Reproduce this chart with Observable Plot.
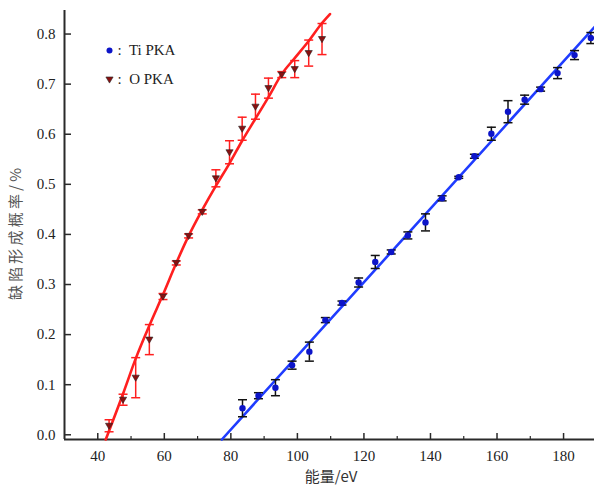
<!DOCTYPE html>
<html><head><meta charset="utf-8">
<script src="https://cdn.jsdelivr.net/npm/d3@7"></script>
<script src="https://cdn.jsdelivr.net/npm/@observablehq/plot@0.6"></script>
<style>body{margin:0;background:#fff}</style>
</head><body><div id="chart"></div>
<script>
// O PKA (red, down triangles)
const oEnergy = [43.4, 47.6, 51.4, 55.5, 59.6, 63.6, 67.3, 71.4, 75.5, 79.6, 83.4, 87.4, 91.3, 95.3, 99.2, 103.4, 107.4];
const oValue  = [0.018, 0.070, 0.114, 0.190, 0.276, 0.343, 0.397, 0.445, 0.512, 0.564, 0.611, 0.655, 0.692, 0.719, 0.730, 0.762, 0.790];
const oError  = [0.012, 0.011, 0.040, 0.030, 0.006, 0.004, 0.004, 0.004, 0.017, 0.023, 0.023, 0.025, 0.020, 0.006, 0.017, 0.026, 0.031];
// O PKA fit curve
const oFitEnergy = [42.4, 47.6, 51.4, 55.5, 59.6, 63.6, 67.3, 71.4, 75.5, 79.6, 83.4, 87.4, 91.3, 95.3, 99.2, 103.4, 107.4, 109.8];
const oFitValue  = [-0.0094, 0.082, 0.152, 0.218, 0.280, 0.343, 0.397, 0.449, 0.497, 0.542, 0.587, 0.631, 0.674, 0.720, 0.752, 0.786, 0.822, 0.840];
// Ti PKA (blue circles)
const tiEnergy = [83.5, 88.3, 93.4, 98.4, 103.6, 108.4, 113.4, 118.4, 123.4, 128.2, 133.2, 138.5, 143.5, 148.5, 153.2, 158.3, 163.3, 168.3, 173.1, 178.2, 183.3, 188.2];
const tiValue  = [0.053, 0.078, 0.094, 0.139, 0.166, 0.229, 0.263, 0.304, 0.345, 0.365, 0.398, 0.424, 0.472, 0.514, 0.556, 0.601, 0.645, 0.669, 0.690, 0.722, 0.758, 0.792];
const tiError  = [0.017, 0.006, 0.016, 0.008, 0.019, 0.005, 0.004, 0.009, 0.013, 0.004, 0.007, 0.017, 0.005, 0.002, 0.004, 0.013, 0.022, 0.009, 0.004, 0.011, 0.009, 0.011];
// Ti PKA fit line
const tiFitEnergy = [77.3, 189.3];
const tiFitValue  = [-0.0094, 0.814];

const xTicks = [40, 60, 80, 100, 120, 140, 160, 180];
const xMinorTicks = [50, 70, 90, 110, 130, 150, 170];
const yTicks = [0, 0.1, 0.2, 0.3, 0.4, 0.5, 0.6, 0.7, 0.8];
const legendLabels = [":  Ti PKA", ":  O PKA"];
const xLabel = "能量/eV";
const yLabel = "缺陷形成概率/%";

const oData = oEnergy.map((x, i) => ({x, y: oValue[i], e: oError[i]}));
const tiData = tiEnergy.map((x, i) => ({x, y: tiValue[i], e: tiError[i]}));
const oFit = oFitEnergy.map((x, i) => ({x, y: oFitValue[i]}));
const tiFit = tiFitEnergy.map((x, i) => ({x, y: tiFitValue[i]}));

const W = 594, H = 486, mL = 64, mR = 0, mT = 10, mB = 47;
const innerW = W - mL - mR, innerH = H - mT - mB;
const xDomain = [30, 189.3], yDomain = [-0.0094, 0.847];

const capSymbol = {draw(ctx, size) { const w = Math.sqrt(size / Math.PI); ctx.moveTo(-w, 0); ctx.lineTo(w, 0); }};
const downTri = {draw(ctx, size) { const r = Math.sqrt(size / Math.PI); ctx.moveTo(-r, -0.7 * r); ctx.lineTo(r, -0.7 * r); ctx.lineTo(0, r); ctx.closePath(); }};

const RED = "#ff1f1f", BLUE = "#1f3cff", TRI = "#8a1010", DOT = "#0c14c8", AX = "#2a2a2a";
const serif = "'Liberation Serif', 'Times New Roman', serif";
const cjk = "'Noto Sans CJK SC', " + serif;

const chart = Plot.plot({
  width: W, height: H,
  marginLeft: mL, marginRight: mR, marginTop: mT, marginBottom: mB,
  style: {fontFamily: serif, fontSize: "15px", background: "#fff", color: "#222"},
  x: {domain: xDomain},
  y: {domain: yDomain},
  marks: [
    // axis lines
    Plot.ruleY([yDomain[0]], {stroke: AX, strokeWidth: 2}),
    Plot.ruleX([xDomain[0]], {stroke: AX, strokeWidth: 2}),
    // inward ticks
    Plot.tickX(xTicks, {x: d => d, insetTop: innerH - 6, stroke: AX, strokeWidth: 1.5}),
    Plot.tickX(xMinorTicks, {x: d => d, insetTop: innerH - 3, stroke: AX, strokeWidth: 1.2}),
    Plot.tickY(yTicks, {y: d => d, insetRight: innerW - 7, stroke: AX, strokeWidth: 1.5}),
    // tick labels
    Plot.axisX({ticks: xTicks, tickSize: 0, tickPadding: 11, label: null, fontSize: 15}),
    Plot.axisY({ticks: yTicks, tickSize: 0, tickPadding: 9, label: null, fontSize: 15, tickFormat: d3.format(".1f")}),
    // fits
    Plot.line(oFit, {x: "x", y: "y", stroke: RED, strokeWidth: 2.6, curve: "monotone-x"}),
    Plot.line(tiFit, {x: "x", y: "y", stroke: BLUE, strokeWidth: 2.6}),
    // O PKA error bars
    Plot.ruleX(oData, {x: "x", y1: d => d.y - d.e, y2: d => d.y + d.e, stroke: RED, strokeWidth: 1.5}),
    Plot.dot(oData, {x: "x", y: d => d.y + d.e, symbol: capSymbol, r: 4.5, stroke: RED, strokeWidth: 1.5, fill: "none"}),
    Plot.dot(oData, {x: "x", y: d => d.y - d.e, symbol: capSymbol, r: 4.5, stroke: RED, strokeWidth: 1.5, fill: "none"}),
    Plot.dot(oData, {x: "x", y: "y", symbol: downTri, r: 3.6, fill: TRI, stroke: "#222", strokeWidth: 0.6}),
    // Ti PKA error bars
    Plot.ruleX(tiData, {x: "x", y1: d => d.y - d.e, y2: d => d.y + d.e, stroke: "#111", strokeWidth: 1.5}),
    Plot.dot(tiData, {x: "x", y: d => d.y + d.e, symbol: capSymbol, r: 4.5, stroke: "#111", strokeWidth: 1.5, fill: "none"}),
    Plot.dot(tiData, {x: "x", y: d => d.y - d.e, symbol: capSymbol, r: 4.5, stroke: "#111", strokeWidth: 1.5, fill: "none"}),
    Plot.dot(tiData, {x: "x", y: "y", r: 3.2, fill: DOT, stroke: "none"}),
    // legend
    Plot.dot([legendLabels[0]], {frameAnchor: "top-left", dx: 45, dy: 40, r: 3, fill: DOT, stroke: "none"}),
    Plot.dot([legendLabels[1]], {frameAnchor: "top-left", dx: 45, dy: 69, symbol: downTri, r: 3.6, fill: TRI, stroke: "#222", strokeWidth: 0.6}),
    Plot.text([legendLabels[0]], {text: d => d, frameAnchor: "top-left", dx: 53, dy: 40, textAnchor: "start", lineAnchor: "middle", fontSize: 15, fill: "#222"}),
    Plot.text([legendLabels[1]], {text: d => d, frameAnchor: "top-left", dx: 53, dy: 69, textAnchor: "start", lineAnchor: "middle", fontSize: 15, fill: "#222"})
  ]
});

const svg = d3.select(chart);
// x-axis title, centred at (331, 477)
svg.append("text")
  .attr("transform", "translate(331,477)")
  .attr("text-anchor", "middle")
  .attr("dy", "0.35em")
  .attr("font-family", cjk)
  .attr("font-size", 15)
  .attr("fill", "#333")
  .text(xLabel);
// vertical y-axis title, centred at (16, 234)
svg.append("text")
  .attr("transform", "translate(16,234) rotate(-90)")
  .attr("text-anchor", "middle")
  .attr("dy", "0.35em")
  .attr("font-family", cjk)
  .attr("font-size", 15)
  .attr("fill", "#555")
  .attr("textLength", 132)
  .attr("lengthAdjust", "spacing")
  .text(yLabel);

document.getElementById("chart").appendChild(chart);
</script>
</body></html>
